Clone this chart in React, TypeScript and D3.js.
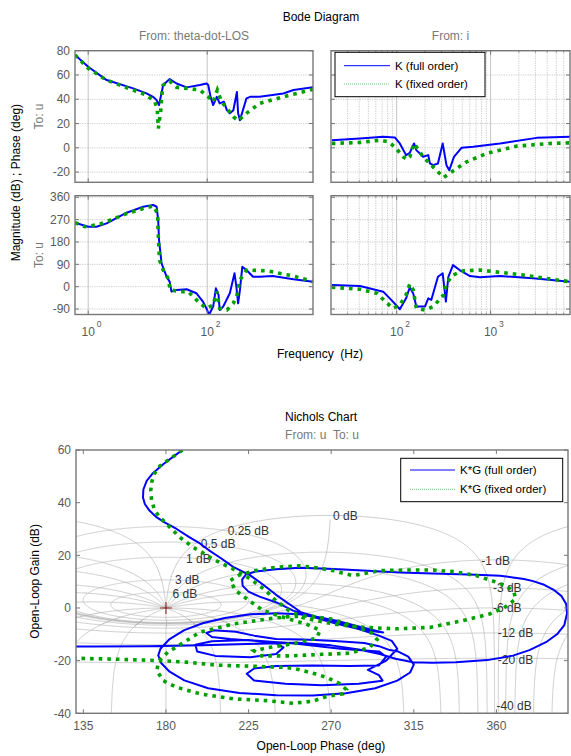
import React from "react";
import * as d3 from "d3";

type Pt = [number, number];

// ---------------- Bode data: [frequency Hz, value] ----------------
const magLosFull: Pt[] = [[0.6,76.5],[1,66.8],[2.04,55.8],[5.7,49],[9.55,44.8],[12.3,42],[14.1,39.3],[15.5,35.2],[18.2,51.7],[23.4,56.6],[30.6,53],[45.1,49.8],[75.3,51.7],[97.7,53],[104,51.7],[114,42],[126,35.2],[145,42],[162,36.6],[191,38],[214,31],[240,28.4],[275,31],[316,46],[331,28.4],[355,22.8],[398,31],[457,40.7],[525,42],[759,42],[1905,44.8],[2818,47.6],[6000,49.8]];
const magLosFixed: Pt[] = [[0.6,76.5],[1,65.5],[2.04,55.8],[5.7,47.6],[9.55,43.5],[13.2,38],[14.5,31],[15.1,16],[16.6,31],[17.4,44.8],[18.2,51.7],[23.4,55],[30.6,49.8],[45.1,49],[75.3,47.6],[104,42],[126,38],[148,47.6],[174,38],[214,32.5],[275,25.6],[331,22.3],[457,28.4],[759,36.6],[1905,42],[6000,48.2]];
const magIFull: Pt[] = [[20.4,6.3],[40.7,7.7],[71.9,9.1],[95.5,8.6],[108,3.6],[126,-6],[138,-4.1],[153,3.6],[162,-1.9],[191,-7.4],[217,-6],[226,-12.9],[245,-14.3],[275,-12.9],[309,3.6],[339,-14.3],[363,-18.4],[385,-12.9],[407,-7.4],[490,0],[653,0.8],[1259,3.6],[3090,8.2],[7000,9.1]];
const magIFixed: Pt[] = [[20.4,3.6],[40.7,4.4],[66,6.3],[81,5],[95.5,0.8],[117.5,-7.4],[129,-9.6],[138,-7.4],[153,3.6],[162,0.8],[191,-7.4],[234,-14.3],[275,-19.8],[316,-24.4],[385,-19.8],[556,-11.5],[912,-4.6],[1905,1.4],[4266,3.6],[7000,4.1]];
const phLosFull: Pt[] = [[0.6,257.8],[1,241.6],[1.38,241.6],[2.04,255],[4.42,298],[8.4,322],[12.3,329],[14.1,322],[15,268.6],[15.5,188],[17.1,94],[20.8,40],[23.4,20],[25.1,-20],[30.6,-13],[45.1,-10.5],[66,-26.6],[85,-60],[100,-94],[107,-114],[126,-80],[140,-6.4],[155,-33],[162,-94],[186,-80],[240,-26.6],[288,54],[309,0],[331,-67],[355,-13],[389,80],[457,67],[589,40],[759,40],[1259,43],[2818,30],[6000,20]];
const phLosFixed: Pt[] = [[0.6,257.8],[0.88,241.6],[1.55,251],[4.42,294],[8.4,315],[12.3,325],[14.7,295],[15,215],[15.8,107],[18.2,67],[21.9,34],[24,-13],[34.7,-20],[47.9,-20],[75.3,-67],[97.7,-87],[126,-74],[145,-20],[162,-87],[214,-94],[275,-67],[316,-33],[355,27],[457,67],[1000,64],[2818,43],[6000,20]];
const phIFull: Pt[] = [[20.4,6.8],[40.7,2.8],[71.9,-20],[91.2,-60],[108,-91],[126,-47],[138,-2.4],[150,-27],[162,-80],[200,-80],[217,-47],[234,-53],[275,40],[309,54],[334,-60],[355,40],[398,87],[468,67],[603,43],[769,38],[1259,43],[2818,34],[7000,20]];
const phIFixed: Pt[] = [[20.4,-2.4],[40.7,-10.5],[61.7,-27],[79.4,-67],[91.2,-87],[108,-74],[126,-33],[138,11],[150,-13],[162,-87],[200,-94],[245,-80],[316,-33],[339,13.7],[398,47],[513,64],[769,67],[1905,50],[7000,20]];

const magTicks = [-20, 0, 20, 40, 60, 80];
const phaseTicks = [-90, 0, 90, 180, 270, 360];
const losMajors = [1, 100];
const iMajors = [100, 1000];

// ---------------- Nichols data: [open-loop phase deg, open-loop gain dB] ----------------
const nicholsFull: Pt[] = [
  [189,60],[184,57.5],[178.5,54.6],[173,51.3],[169.5,48.3],[167.7,45],[167.5,42],[168.5,39.5],[171,37],[175,34.4],[179,32.6],[185.8,30],[192.7,26.9],[198.5,24.5],[203.9,21.7],[210,18.9],[216.6,15.6],[225.7,12.5],[233,8.8],[240,5],[247.5,1.3],[253.8,-1.7],[262,-3.3],[272.9,-4.8],[285,-7],[298.3,-9.3],
  [290,-8.6],[280,-6.8],[271,-5],[262,-3.6],[253,-2.4],[240,-2],[226,-2.4],[212,-3.8],[200,-5.8],[190,-8.4],[182,-11.8],[177,-15.5],[175.8,-18],[177.5,-21],[182,-24.2],[190,-27.5],[203,-30.5],[220,-32.3],[240,-33.1],[260,-33.2],[278,-32.4],[294,-30.5],[306,-27.6],[313,-24.5],[315,-21.5],[312,-18.5],[306,-16.4],[301.9,-16],
  [296,-14.5],[288,-13.3],[272,-12.5],[255,-12],[240,-11.8],[228,-10.5],[218,-9],[206,-8.5],[202,-9.5],[205,-11],[215,-11.8],[228,-12.4],[240,-13.4],[244,-15],[240,-17.5],[226,-18.7],[207,-18.2],[197,-16.5],[196,-14],[205,-12.6],[225,-12.2],[250,-13.5],[275,-15.5],[296,-16.5],[300,-18.5],[296,-21.8],[280,-22],[260,-21.8],[240,-22],[228,-23],[224,-25],[228,-27.5],[245,-28.8],[265,-29.3],[285,-28.8],[298,-27.6],[296,-25.5],[290,-23.5],[300,-20],
  [306,-15.5],[303,-12.5],[296,-10.5],[285,-8],[272,-5.8],[260,-3.3],[249.3,-1],[240.2,2.1],[231,4.3],[225,6.2],[221.8,8.4],[221.5,10.8],[223.5,12.7],[229,13.9],[240,14.7],[252.9,15.3],[271,14.8],[290,14.1],[307.3,13.5],[330,13],[349.1,12.6],[362,12.2],[369,11.6],[375,11],[380,10.2],[386,8.8],[391,7],[395.5,4.5],[398,1.5],[398.5,-2],[397,-6.5],[393,-10],[387,-13],[378,-16],[369,-18.1],[355,-19.8],[338,-20.6],[325,-20.8],[314.6,-20.6],[305,-19.3],[296.5,-17.5],[285,-15.8],[270,-14.2],[252,-13.2],[230,-13.6],[200,-14.2],[170,-14.5],[140,-14.6],[120,-14.6]
];
const nicholsFixed: Pt[] = [
  [189,60],[183,57],[176.8,54],[173.5,50.8],[172.2,47.7],[171.7,44.5],[172.2,40.7],[173.8,37.3],[176.4,34.6],[180.4,31.9],[187.6,26.8],[194.9,23],[200,21],[204,19.2],[210,17],[216,15],[221.7,12.9],[227.2,10.4],[234.4,6.6],[239.9,2.8],[247.1,-1],[254.4,-3.6],[261.6,-4.8],[270,-5.9],[280,-6.9],[294.6,-7.6],[305.5,-7.9],[323.7,-7.4],[341.8,-4.8],[356.3,-2.3],[364,0],[367.2,1.6],[370.5,3.5],[369.5,6.2],[365.5,8.3],[359.9,9.8],[349,12.3],[337,13.8],[325.5,14.4],[310,14.4],[296.4,14.2],[289,13.2],[281.9,12.3],[276,13.3],[271,14.2],[262,15.3],[252.9,16],[240,15.5],[229,14.2],[220,12.5],[215,10.4],[218,6.6],[225.3,2.8],[232.6,-0.8],[239.9,-2.6],[248,-4.4],[256,-6],[264,-8.5],[262,-11.5],[250,-13.5],[236,-15],[228,-16.3],[232,-18.2],[247.5,-18.2],[265,-17.6],[280,-17.2],[291,-15],[295,-12],[292,-9.5],[282,-6.8],[270,-4.2],[258,-3],[245,-3.4],[234.8,-4.2],[216.6,-6.1],[198.5,-9.2],[189.4,-13.2],[181,-16.8],[176,-20.3],[175,-23.8],[178.5,-27.6],[185.8,-30.1],[198.5,-32.6],[216.6,-34.5],[234.8,-35.2],[249.3,-36.2],[260,-35.4],[268,-33.5],[276.5,-32.6],[278.3,-31],[274.6,-28.7],[268,-26.5],[262,-25.1],[250,-23],[243.9,-22.5],[225,-22.1],[207.6,-21.7],[190,-20.5],[176.7,-20],[155,-19.5],[131.4,-19.1],[120,-19]
];
const nicholsPhaseTicks = [135, 180, 225, 270, 315, 360];
const nicholsGainTicks = [-40, -20, 0, 20, 40, 60];
const ngridGainsDb = [6, 3, 1, 0.5, 0.25, 0, -1, -3, -6, -12, -20, -40];
const ngridPhasesDeg = [1, 5, 10, 20, 30, 50, 90, 120, 150, 180];
const ngridCenters = [180, 540];
const ngridLabelText = ["0.25 dB", "0.5 dB", "1 dB", "3 dB", "6 dB", "0 dB", "-1 dB", "-3 dB", "-6 dB", "-12 dB", "-20 dB", "-40 dB"];
const ngridLabelPhase = [213.6, 199, 190.9, 184.9, 183.6, 271, 351.8, 358.1, 358.1, 360.8, 360.8, 360];
const ngridLabelGain = [29.3, 24.5, 18.6, 10.6, 5.5, 35, 18, 7.8, 0, -9.6, -19.6, -37.1];

const FONT = "'Liberation Sans', Arial, Helvetica, sans-serif";
const BLUE = "#0000ff";
const GREEN = "#00a000";
const AXIS = "#777777";
const TICKTXT = "#5a5a5a";
const GRID = "#bdbdbd";
const NGRID = "#b3b3b3";

function BodePanel(p: {
  id: string; x0: number; x1: number; y0: number; y1: number;
  fDom: [number, number]; vDom: [number, number]; yTicks: number[]; yLabels: boolean;
  majors: number[]; minors: boolean; xLabels: boolean; full: Pt[]; fixed: Pt[];
}) {
  const { id, x0, x1, y0, y1, fDom, vDom, yTicks, yLabels, majors, minors, xLabels, full, fixed } = p;
  const xs = d3.scaleLog().domain(fDom).range([x0, x1]);
  const ys = d3.scaleLinear().domain(vDom).range([y1, y0]);
  const line = d3.line<Pt>().x((d) => xs(d[0])).y((d) => ys(d[1]));
  const minorTicks = minors
    ? xs.ticks().filter((t) => !majors.some((m) => Math.abs(m - t) < 1e-9) && t > fDom[0] * 1.001 && t < fDom[1] * 0.999)
    : [];
  return (
    <g>
      <defs>
        <clipPath id={id}>
          <rect x={x0} y={y0} width={x1 - x0} height={y1 - y0} />
        </clipPath>
      </defs>
      {yTicks.map((t) => (
        <line key={"hg" + t} x1={x0} x2={x1} y1={ys(t)} y2={ys(t)} stroke={GRID} strokeWidth={0.8} strokeDasharray="1.2 1.2" />
      ))}
      {minorTicks.map((t) => (
        <line key={"vmg" + t} x1={xs(t)} x2={xs(t)} y1={y0} y2={y1} stroke={GRID} strokeWidth={0.8} strokeDasharray="1.2 1.2" />
      ))}
      {majors.map((t) => (
        <line key={"vg" + t} x1={xs(t)} x2={xs(t)} y1={y0} y2={y1} stroke={GRID} strokeWidth={0.9} />
      ))}
      <g clipPath={`url(#${id})`}>
        <path d={line(full) || ""} fill="none" stroke={BLUE} strokeWidth={2} strokeLinejoin="round" />
        <path d={line(fixed) || ""} fill="none" stroke={GREEN} strokeWidth={3.6} strokeDasharray="3.6 5" />
      </g>
      <rect x={x0} y={y0} width={x1 - x0} height={y1 - y0} fill="none" stroke={AXIS} strokeWidth={1.4} />
      {yTicks.map((t) => (
        <g key={"yt" + t}>
          <line x1={x0} x2={x0 + 4} y1={ys(t)} y2={ys(t)} stroke={AXIS} strokeWidth={1} />
          <line x1={x1} x2={x1 - 4} y1={ys(t)} y2={ys(t)} stroke={AXIS} strokeWidth={1} />
          {yLabels && (
            <text x={x0 - 5} y={ys(t)} dy="0.35em" textAnchor="end" fontSize={12} fill={TICKTXT}>{t}</text>
          )}
        </g>
      ))}
      {majors.map((t) => (
        <g key={"xt" + t}>
          <line x1={xs(t)} x2={xs(t)} y1={y0} y2={y0 + 4} stroke={AXIS} strokeWidth={1} />
          <line x1={xs(t)} x2={xs(t)} y1={y1} y2={y1 - 4} stroke={AXIS} strokeWidth={1} />
          {xLabels && (
            <g fill={TICKTXT}>
              <text x={xs(t)} y={y1 + 21.5} textAnchor="middle" fontSize={12}>10</text>
              <text x={xs(t) + 8.5} y={y1 + 12.5} fontSize={8.5}>{Math.round(Math.log10(t))}</text>
            </g>
          )}
        </g>
      ))}
      {minorTicks.map((t) => (
        <g key={"xmt" + t}>
          <line x1={xs(t)} x2={xs(t)} y1={y0} y2={y0 + 2} stroke={AXIS} strokeWidth={0.8} />
          <line x1={xs(t)} x2={xs(t)} y1={y1} y2={y1 - 2} stroke={AXIS} strokeWidth={0.8} />
        </g>
      ))}
    </g>
  );
}

function buildNGrid(): Pt[][] {
  const lines: Pt[][] = [];
  const tVals: number[] = [];
  for (let i = 0; i <= 500; i++) tVals.push(Math.pow(10, -4 + (i * 8) / 500));
  for (let i = 0; i <= 1200; i++) tVals.push(0.7 + i * 0.0005);
  tVals.sort((a, b) => a - b);
  for (const c of ngridCenters) {
    // closed-loop phase contours
    for (const base of ngridPhasesDeg) {
      const psis = base === 180 ? [180] : [base, -base];
      for (const psi of psis) {
        const r = (psi * Math.PI) / 180;
        const pts: Pt[] = tVals.map((t) => {
          const re = 1 - t * Math.cos(r);
          const im = t * Math.sin(r);
          return [c - (Math.atan2(im, re) * 180) / Math.PI, -20 * Math.log10(Math.hypot(re, im))];
        });
        lines.push(pts);
      }
    }
    // closed-loop magnitude contours
    for (const gdb of ngridGainsDb) {
      const M = Math.pow(10, gdb / 20);
      const pts: Pt[] = [];
      if (gdb > 0) {
        const C = -(M * M) / (M * M - 1);
        const R = M / (M * M - 1);
        for (let i = 0; i <= 720; i++) {
          const a = (i / 720) * 2 * Math.PI;
          const re = C + R * Math.cos(a);
          const im = R * Math.sin(a);
          pts.push([c + (Math.atan2(-im, -re) * 180) / Math.PI, 20 * Math.log10(Math.hypot(re, im))]);
        }
      } else if (gdb === 0) {
        for (let i = 0; i <= 900; i++) {
          const th = -89.6 + (i * 179.2) / 900;
          const rr = 1 / (2 * Math.cos((th * Math.PI) / 180));
          const g = 20 * Math.log10(rr);
          if (g <= 35.5) pts.push([c + th, g]);
        }
      } else {
        for (let i = 0; i <= 720; i++) {
          const th = -180 + (i * 360) / 720;
          const ct = Math.cos((th * Math.PI) / 180);
          const rr = (-M * M * ct + M * Math.sqrt(M * M * ct * ct + 1 - M * M)) / (1 - M * M);
          pts.push([c + th, 20 * Math.log10(rr)]);
        }
      }
      lines.push(pts);
    }
  }
  return lines;
}

function NicholsPanel() {
  const x0 = 76, x1 = 568, y0 = 450, y1 = 713.3;
  const xs = d3.scaleLinear().domain([131, 399]).range([x0, x1]);
  const ys = d3.scaleLinear().domain([-40, 60]).range([y1, y0]);
  const line = d3.line<Pt>().x((d) => xs(d[0])).y((d) => ys(d[1]));
  const grid = React.useMemo(() => buildNGrid(), []);
  const cx = xs(180), cy = ys(0);
  return (
    <g>
      <defs>
        <clipPath id="nclip">
          <rect x={x0} y={y0} width={x1 - x0} height={y1 - y0} />
        </clipPath>
      </defs>
      <g clipPath="url(#nclip)">
        {grid.map((g, i) => (
          <path key={"ng" + i} d={line(g) || ""} fill="none" stroke={NGRID} strokeWidth={0.65} />
        ))}
        {ngridLabelText.map((t, i) => (
          <text key={"nl" + i} x={xs(ngridLabelPhase[i])} y={ys(ngridLabelGain[i])} dy="0.35em" fontSize={12} fill="#333">{t}</text>
        ))}
        <line x1={cx - 6} x2={cx + 6} y1={cy} y2={cy} stroke="#a03a3a" strokeWidth={1.2} />
        <line x1={cx} x2={cx} y1={cy - 6} y2={cy + 6} stroke="#a03a3a" strokeWidth={1.2} />
        <path d={line(nicholsFull) || ""} fill="none" stroke={BLUE} strokeWidth={2} strokeLinejoin="round" />
        <path d={line(nicholsFixed) || ""} fill="none" stroke={GREEN} strokeWidth={3.6} strokeDasharray="3.6 5" />
      </g>
      <rect x={x0} y={y0} width={x1 - x0} height={y1 - y0} fill="none" stroke={AXIS} strokeWidth={1.4} />
      {nicholsGainTicks.map((t) => (
        <g key={"ngt" + t}>
          <line x1={x0} x2={x0 + 4} y1={ys(t)} y2={ys(t)} stroke={AXIS} />
          <line x1={x1} x2={x1 - 4} y1={ys(t)} y2={ys(t)} stroke={AXIS} />
          <text x={x0 - 5} y={ys(t)} dy="0.35em" textAnchor="end" fontSize={12} fill={TICKTXT}>{t}</text>
        </g>
      ))}
      {nicholsPhaseTicks.map((t) => (
        <g key={"npt" + t}>
          <line x1={xs(t)} x2={xs(t)} y1={y0} y2={y0 + 4} stroke={AXIS} />
          <line x1={xs(t)} x2={xs(t)} y1={y1} y2={y1 - 4} stroke={AXIS} />
          <text x={xs(t)} y={y1 + 17} textAnchor="middle" fontSize={12} fill={TICKTXT}>{t}</text>
        </g>
      ))}
      <rect x={400.7} y={458.3} width={162} height={43.4} fill="#fff" stroke="#000" strokeWidth={1} />
      <line x1={410} x2={455} y1={470} y2={470} stroke={BLUE} strokeWidth={1} />
      <text x={460} y={470} dy="0.35em" fontSize={11.5} fill="#000">K*G (full order)</text>
      <line x1={410} x2={455} y1={489.3} y2={489.3} stroke={GREEN} strokeWidth={1} strokeDasharray="1 1" opacity={0.6} />
      <text x={460} y={489.3} dy="0.35em" fontSize={11.5} fill="#000">K*G (fixed order)</text>
    </g>
  );
}

export default function App() {
  const magDom: [number, number] = [-28.4, 80];
  const phDom: [number, number] = [-112, 366.4];
  const fLos: [number, number] = [0.6, 6000];
  const fI: [number, number] = [20, 7000];
  return (
    <div style={{ position: "absolute", left: 0, top: 0 }}>
      <svg width={571} height={756} style={{ display: "block", background: "#fff" }} fontFamily={FONT}>
        <rect x={0} y={0} width={571} height={756} fill="#fff" />
        <text x={321} y={21} textAnchor="middle" fontSize={12} fill="#000">Bode Diagram</text>
        <text x={194} y={40} textAnchor="middle" fontSize={12} fill="#7a7a7a">From: theta-dot-LOS</text>
        <text x={450.5} y={40} textAnchor="middle" fontSize={12} fill="#7a7a7a">From: i</text>
        <BodePanel id="c1" x0={75} x1={313} y0={50.7} y1={182.3} fDom={fLos} vDom={magDom} yTicks={magTicks} yLabels={true} majors={losMajors} minors={false} xLabels={false} full={magLosFull} fixed={magLosFixed} />
        <BodePanel id="c2" x0={331} x1={570} y0={50.7} y1={182.3} fDom={fI} vDom={magDom} yTicks={magTicks} yLabels={false} majors={iMajors} minors={true} xLabels={false} full={magIFull} fixed={magIFixed} />
        <BodePanel id="c3" x0={75} x1={313} y0={195.7} y1={314.5} fDom={fLos} vDom={phDom} yTicks={phaseTicks} yLabels={true} majors={losMajors} minors={false} xLabels={true} full={phLosFull} fixed={phLosFixed} />
        <BodePanel id="c4" x0={331} x1={570} y0={195.7} y1={314.5} fDom={fI} vDom={phDom} yTicks={phaseTicks} yLabels={false} majors={iMajors} minors={true} xLabels={true} full={phIFull} fixed={phIFixed} />
        <rect x={335} y={52.3} width={150} height={44.4} fill="#fff" stroke="#000" strokeWidth={1} />
        <line x1={344} x2={390} y1={65.7} y2={65.7} stroke={BLUE} strokeWidth={1} />
        <text x={395} y={65.7} dy="0.35em" fontSize={11.5} fill="#000">K (full order)</text>
        <line x1={344} x2={390} y1={84} y2={84} stroke={GREEN} strokeWidth={1} strokeDasharray="1 1" opacity={0.6} />
        <text x={395} y={84} dy="0.35em" fontSize={11.5} fill="#000">K (fixed order)</text>
        <text transform="translate(20,182.6) rotate(-90)" textAnchor="middle" fontSize={12} fill="#000">Magnitude (dB) ; Phase (deg)</text>
        <text transform="translate(42.5,116.5) rotate(-90)" textAnchor="middle" fontSize={12} fill="#7a7a7a">To: u</text>
        <text transform="translate(42.5,255) rotate(-90)" textAnchor="middle" fontSize={12} fill="#7a7a7a">To: u</text>
        <text x={320} y={357.5} textAnchor="middle" fontSize={12} fill="#000" style={{ whiteSpace: "pre" }}>Frequency  (Hz)</text>

        <text x={321} y={421} textAnchor="middle" fontSize={12} fill="#000">Nichols Chart</text>
        <text x={322} y={439} textAnchor="middle" fontSize={12} fill="#7a7a7a" style={{ whiteSpace: "pre" }}>From: u  To: u</text>
        <NicholsPanel />
        <text transform="translate(39,581.5) rotate(-90)" textAnchor="middle" fontSize={12} fill="#000">Open-Loop Gain (dB)</text>
        <text x={321} y={750} textAnchor="middle" fontSize={12} fill="#000">Open-Loop Phase (deg)</text>
      </svg>
    </div>
  );
}
